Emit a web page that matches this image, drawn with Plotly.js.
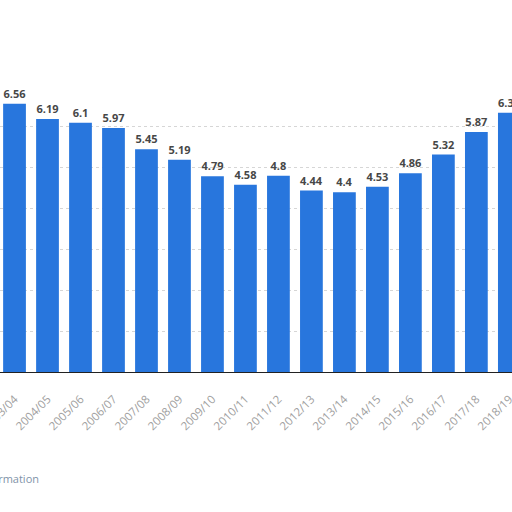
<!DOCTYPE html>
<html>
<head>
<meta charset="utf-8">
<script src="https://cdn.plot.ly/plotly-3.0.1.min.js"></script>
<style>
  html, body { margin: 0; padding: 0; background: #fff; }
  #plot { width: 512px; height: 512px; }
</style>
</head>
<body>
<div id="plot"></div>
<script>
// seasons on the x axis
var seasons = ["2003/04", "2004/05", "2005/06", "2006/07", "2007/08", "2008/09",
  "2009/10", "2010/11", "2011/12", "2012/13", "2013/14", "2014/15",
  "2015/16", "2016/17", "2017/18", "2018/19"];

// values
var values = [6.56, 6.19, 6.1, 5.97, 5.45, 5.19, 4.79, 4.58, 4.8, 4.44, 4.4, 4.53,
  4.86, 5.32, 5.87, 6.34];

var gridVals = [0, 1, 2, 3, 4, 5, 6];

var trace = {
  x: seasons,
  y: values,
  type: "bar",
  marker: { color: "#2876dd" },
  text: values.map(function (v) { return "<b>" + v + "</b>"; }),
  textposition: "outside",
  cliponaxis: false,
  textfont: { family: "Open Sans", size: 11, color: "#474747" },
  hoverinfo: "none"
};

var layout = {
  width: 512,
  height: 512,
  margin: { l: 0, r: 0, t: 0, b: 140 },
  paper_bgcolor: "#fff",
  plot_bgcolor: "#fff",
  showlegend: false,
  bargap: 0.31,
  xaxis: {
    type: "category",
    range: [-0.44, 15.08],
    tickangle: -45,
    tickfont: { family: "Open Sans", size: 11.5, color: "#a0a0a0" },
    showline: true,
    linecolor: "#222",
    linewidth: 1,
    ticks: "outside",
    ticklen: 15,
    tickcolor: "rgba(0,0,0,0)",
    showgrid: false
  },
  yaxis: {
    range: [0, 9.1],
    tickvals: gridVals,
    showticklabels: false,
    showgrid: true,
    gridcolor: "#d6d6d6",
    griddash: "dot",
    zeroline: false,
    fixedrange: true
  },
  annotations: [{
    text: "Additional Information",
    xref: "paper", yref: "paper",
    x: -0.155, y: -0.285,
    xanchor: "left", yanchor: "middle",
    showarrow: false,
    font: { family: "Open Sans", size: 11, color: "#7f93a8" }
  }]
};

Plotly.newPlot("plot", [trace], layout, { displayModeBar: false, staticPlot: true });
</script>
</body>
</html>
